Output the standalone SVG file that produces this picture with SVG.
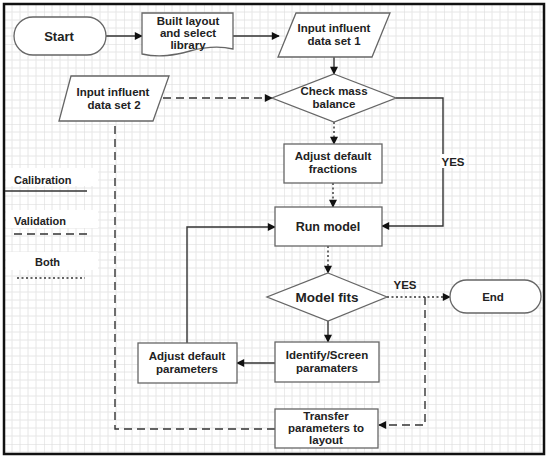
<svg xmlns="http://www.w3.org/2000/svg" width="550" height="463" viewBox="0 0 550 463">
<defs>
<pattern id="g" width="40" height="40" patternUnits="userSpaceOnUse" x="4" y="4">
<path d="M8,0V40M16,0V40M24,0V40M32,0V40M0,8H40M0,16H40M0,24H40M0,32H40" stroke="#e6e6e6" stroke-width="1" fill="none"/>
<path d="M0,0V40M0,0H40" stroke="#d8d8d8" stroke-width="1" fill="none"/>
</pattern>
<marker id="ah" viewBox="0 0 10 10" refX="9" refY="5" markerWidth="9" markerHeight="8" markerUnits="userSpaceOnUse" orient="auto">
<path d="M0,0L10,5L0,10Z" fill="#111"/>
</marker>
<style>
.n{fill:#fff;stroke:#666;stroke-width:1.3}
.t{font-family:"Liberation Sans",Arial,sans-serif;font-weight:bold;font-size:11.5px;fill:#222;text-anchor:middle}
.c{fill:none;stroke:#333;stroke-width:1.4}
.d{stroke-dasharray:8 5}
.o{stroke-dasharray:2 2.5}
.a{marker-end:url(#ah)}
.l{font-family:"Liberation Sans",Arial,sans-serif;font-weight:bold;font-size:11px;fill:#222}
</style>
</defs>
<rect x="0" y="0" width="550" height="463" fill="#fff"/>
<rect x="5" y="5" width="539" height="449" fill="url(#g)"/>
<rect x="4" y="4" width="540" height="450" fill="none" stroke="#111" stroke-width="2.5"/>

<g id="legend">
<rect x="6" y="168" width="92" height="18" fill="#fff"/>
<rect x="6" y="210" width="92" height="18" fill="#fff"/>
<rect x="6" y="252" width="92" height="18" fill="#fff"/>
<text class="l" x="14" y="184">Calibration</text>
<line x1="5" y1="191" x2="87" y2="191" stroke="#333" stroke-width="1.4"/>
<text class="l" x="14" y="225">Validation</text>
<line x1="14" y1="234" x2="87" y2="234" stroke="#333" stroke-width="1.4" class="d"/>
<text class="l" x="35" y="266">Both</text>
<line x1="17" y1="278" x2="85" y2="278" stroke="#333" stroke-width="1.4" class="o"/>
</g>

<g id="connectors">
<line class="c a" x1="106" y1="36" x2="142" y2="36"/>
<line class="c a" x1="233" y1="36" x2="279" y2="36"/>
<line class="c a" x1="334" y1="57" x2="334" y2="74"/>
<line class="c d a" x1="163" y1="98" x2="272" y2="98"/>
<polyline class="c d" points="115,126 115,429 275,429"/>
<line class="c o a" x1="334" y1="122" x2="334" y2="144"/>
<line class="c o a" x1="333" y1="183" x2="333" y2="207"/>
<polyline class="c a" points="396,98 443,98 443,226 382,226"/>
<rect x="440" y="154" width="26" height="14" fill="#fff"/>
<text class="t" x="453" y="166">YES</text>
<line class="c o a" x1="328" y1="246" x2="328" y2="273"/>
<line class="c o a" x1="387" y1="297" x2="450" y2="297"/>
<text class="t" x="405" y="289">YES</text>
<polyline class="c d a" points="425,297 425,425 379,425"/>
<line class="c a" x1="328" y1="321" x2="328" y2="342"/>
<line class="c a" x1="275" y1="363" x2="237" y2="363"/>
<polyline class="c a" points="187,343 187,227 275,227"/>
</g>

<g id="start">
<rect class="n" x="14" y="17" width="92" height="38" rx="19"/>
<text class="t" x="59" y="41" style="font-size:13px">Start</text>
</g>
<g id="built">
<path class="n" d="M142,13H233V49C220,46 205,47 190,51S160,58 142,54Z"/>
<text class="t" x="188" y="25">Built layout</text>
<text class="t" x="188" y="37">and select</text>
<text class="t" x="188" y="49">library</text>
</g>
<g id="input1">
<path class="n" d="M296,13H390L372,57H278Z"/>
<text class="t" x="334" y="32">Input influent</text>
<text class="t" x="334" y="45">data set 1</text>
</g>
<g id="input2">
<path class="n" d="M71,76H169L153,121H59Z"/>
<text class="t" x="113" y="96">Input influent</text>
<text class="t" x="114" y="109">data set 2</text>
</g>
<g id="check">
<path class="n" d="M334,74L396,98L334,122L272,98Z"/>
<text class="t" x="334" y="95">Check mass</text>
<text class="t" x="334" y="108">balance</text>
</g>
<g id="fractions">
<rect class="n" x="284" y="144" width="98" height="39"/>
<text class="t" x="333" y="160">Adjust default</text>
<text class="t" x="333" y="173">fractions</text>
</g>
<g id="run">
<rect class="n" x="275" y="207" width="107" height="39"/>
<text class="t" x="328" y="231" style="font-size:12.5px">Run model</text>
</g>
<g id="fits">
<path class="n" d="M328,273L387,297L328,321L267,297Z"/>
<text class="t" x="327" y="302" style="font-size:13.5px">Model fits</text>
</g>
<g id="end">
<rect class="n" x="450" y="280" width="91" height="33" rx="16.5"/>
<text class="t" x="493" y="301">End</text>
</g>
<g id="identify">
<rect class="n" x="275" y="342" width="104" height="40"/>
<text class="t" x="327" y="359">Identify/Screen</text>
<text class="t" x="327" y="372">paramaters</text>
</g>
<g id="adjustparams">
<rect class="n" x="138" y="343" width="99" height="40"/>
<text class="t" x="187" y="360">Adjust default</text>
<text class="t" x="187" y="373">parameters</text>
</g>
<g id="transfer">
<rect class="n" x="275" y="409" width="103" height="39"/>
<text class="t" x="326" y="420">Transfer</text>
<text class="t" x="326" y="432">parameters to</text>
<text class="t" x="326" y="444">layout</text>
</g>
</svg>
